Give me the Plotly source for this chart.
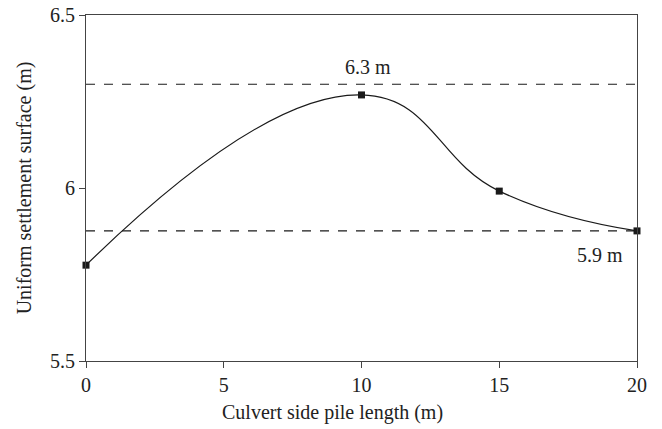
import plotly.graph_objects as go

# Pile length (m) and resulting uniform settlement surface (m)
pile_length = [0, 10, 15, 20]
settlement_surface = [5.777, 6.269, 5.991, 5.876]

# Reference levels drawn as dashed lines
upper_level = 6.3
lower_level = 5.876
upper_label = "6.3 m"
lower_label = "5.9 m"

x_title = "Culvert side pile length (m)"
y_title = "Uniform settlement surface (m)"

font_family = "Liberation Serif, DejaVu Serif, serif"
text_size = 20
text_color = "#222"

fig = go.Figure()

fig.add_trace(go.Scatter(
    x=pile_length,
    y=settlement_surface,
    mode="lines+markers",
    line=dict(color="#1a1a1a", width=1.2, shape="spline", smoothing=1.3),
    marker=dict(symbol="square", size=7, color="#1a1a1a"),
    showlegend=False,
    cliponaxis=False,
))

for level in (upper_level, lower_level):
    fig.add_hline(y=level, line=dict(color="#1a1a1a", width=1.1, dash="dash"))

fig.add_annotation(x=10.25, y=upper_level, text=upper_label, showarrow=False,
                   yanchor="bottom", yshift=4, font=dict(size=text_size, color=text_color))
fig.add_annotation(x=18.65, y=lower_level, text=lower_label, showarrow=False,
                   yanchor="top", yshift=-11, font=dict(size=text_size, color=text_color))

# x-axis title placed as a paper annotation below the tick labels
fig.add_annotation(x=0.447, xref="paper", y=0, yref="paper", yshift=-38,
                   text=x_title, showarrow=False, xanchor="center", yanchor="top",
                   font=dict(size=text_size, color=text_color))

axis_common = dict(
    showgrid=False, zeroline=False, showline=True, mirror=True, automargin=False,
    linecolor="#444", linewidth=1.2, ticks="outside", ticklen=6,
    tickcolor="#444", tickfont=dict(size=text_size, color=text_color),
)

fig.update_xaxes(range=[0, 20], tickvals=[0, 5, 10, 15, 20], **axis_common)
fig.update_yaxes(range=[5.5, 6.5], tickvals=[5.5, 6, 6.5], ticktext=["5.5", "6", "6.5"],
                 title=dict(text=y_title, font=dict(size=text_size, color=text_color), standoff=12),
                 **axis_common)

fig.update_layout(
    width=662, height=429,
    margin=dict(l=86, r=25, t=15, b=68),
    paper_bgcolor="white", plot_bgcolor="white",
    font=dict(family=font_family, size=text_size, color=text_color),
)

fig.write_html("out.html")
